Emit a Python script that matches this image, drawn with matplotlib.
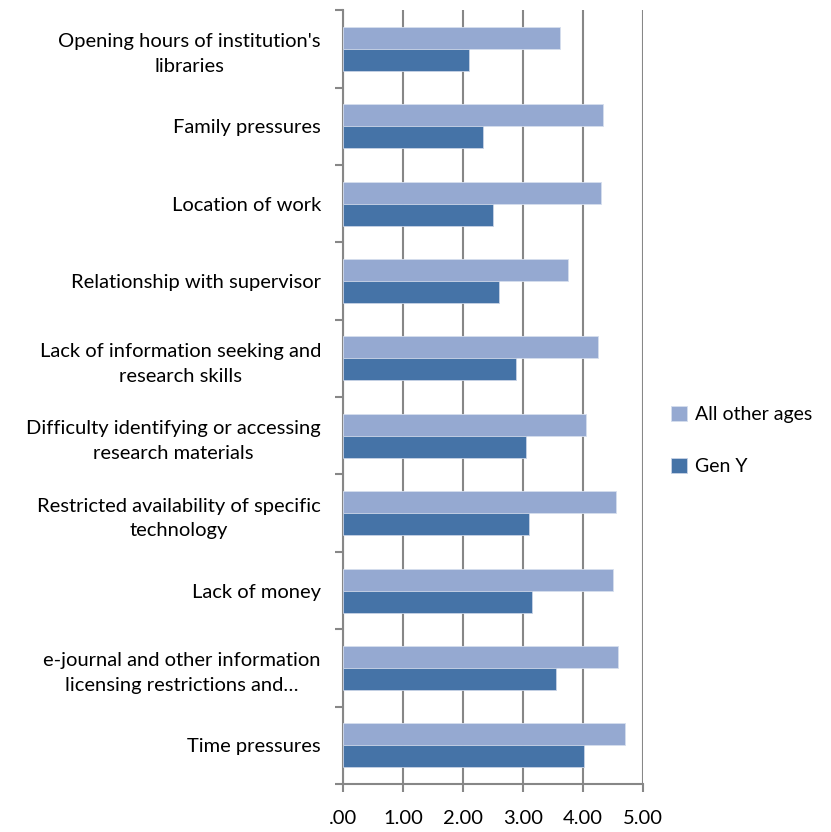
import matplotlib.pyplot as plt
import numpy as np

plt.rcParams['font.family'] = ['Lato', 'DejaVu Sans']

categories = [
    "Opening hours of institution's\nlibraries",
    "Family pressures",
    "Location of work",
    "Relationship with supervisor",
    "Lack of information seeking and\nresearch skills",
    "Difficulty identifying or accessing\nresearch materials",
    "Restricted availability of specific\ntechnology",
    "Lack of money",
    "e-journal and other information\nlicensing restrictions and\u2026",
    "Time pressures",
]
all_other = [3.62, 4.33, 4.30, 3.74, 4.25, 4.04, 4.54, 4.49, 4.58, 4.70]
gen_y = [2.10, 2.33, 2.50, 2.59, 2.88, 3.05, 3.10, 3.15, 3.55, 4.01]
xticks = [0, 1, 2, 3, 4, 5]
xtick_labels = ['.00', '1.00', '2.00', '3.00', '4.00', '5.00']

c_light = '#95A9D1'
c_dark = '#4573A7'
grey = '#878787'

fig = plt.figure(figsize=(8.31, 8.32), dpi=100)
ax = fig.add_axes([0.413, 0.0577, 0.361, 0.930])

n = len(categories)
y = np.arange(n)[::-1]  # first category at top
h = 0.285
ax.barh(y + h / 2, all_other, height=h, color=c_light, edgecolor='#D5DEEE',
        linewidth=0.6, label='All other ages', zorder=3)
ax.barh(y - h / 2, gen_y, height=h, color=c_dark, edgecolor='#C8D3E6',
        linewidth=0.6, label='Gen Y', zorder=3)

ax.set_xlim(0, 5)
ax.set_ylim(-0.5, n - 0.5)
ax.set_xticks(xticks)
ax.set_xticklabels(xtick_labels, fontsize=14.5)
ax.set_yticks(y)
ax.set_yticklabels(categories, fontsize=14.5, ha='right', multialignment='center',
                   linespacing=1.55)
ax.set_yticks(np.arange(n + 1) - 0.5, minor=True)

ax.tick_params(axis='y', which='major', length=0, pad=16)
ax.tick_params(axis='y', which='minor', length=6, width=1.5, color=grey, direction='out')
ax.tick_params(axis='x', which='major', length=6, width=1.5, color=grey, direction='out', pad=13)

ax.grid(axis='x', color=grey, linewidth=1.5, zorder=0)
for s in ['top', 'right']:
    ax.spines[s].set_visible(False)
for s in ['left', 'bottom']:
    ax.spines[s].set_color(grey)
    ax.spines[s].set_linewidth(1.5)

leg = fig.legend(loc='center left', bbox_to_anchor=(0.787, 0.4705), frameon=False,
                 fontsize=14, handlelength=0.8, handleheight=0.8,
                 handletextpad=0.4, labelspacing=1.8)

fig.savefig('out.png', dpi=100)
